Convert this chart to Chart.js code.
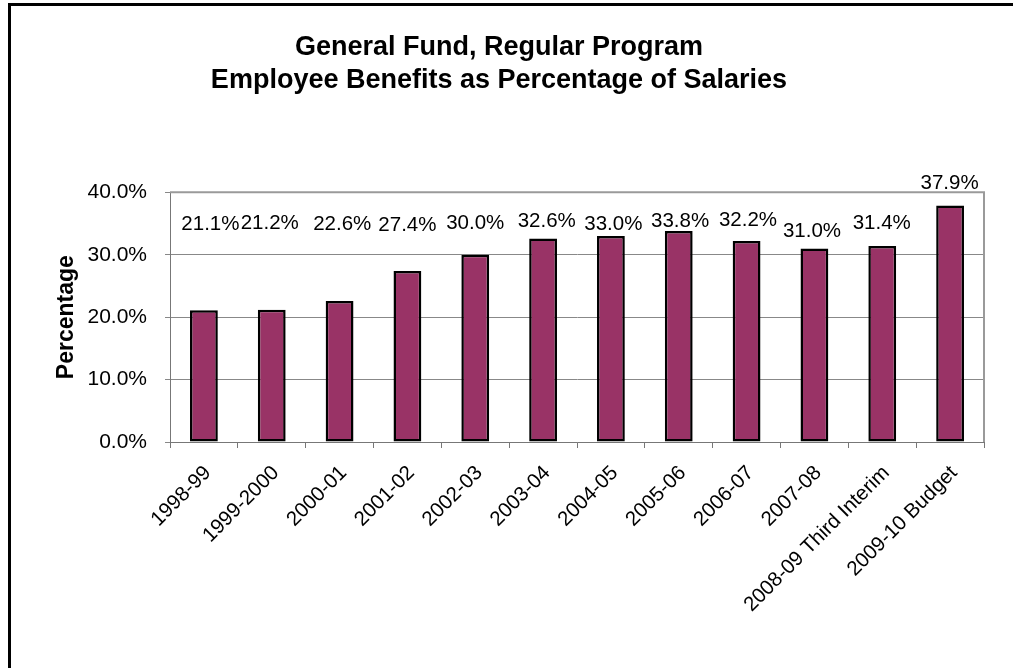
<!DOCTYPE html>
<html>
<head>
<meta charset="utf-8">
<title>Employee Benefits as Percentage of Salaries</title>
<script src="https://cdn.jsdelivr.net/npm/chart.js@4"></script>
<style>
  html, body { margin: 0; padding: 0; background: #fff; overflow: hidden; }
  #frame { position: absolute; left: 8px; top: 3px; width: 1100px; height: 700px;
           border-left: 3px solid #000; border-top: 3px solid #000; }
  #graph { position: absolute; left: 0; top: 0; }
</style>
</head>
<body>
<div id="frame"></div>
<canvas id="graph" width="1013" height="668"></canvas>
<script>
// fiscal years and benefits cost as % of salaries
const years = ['1998-99', '1999-2000', '2000-01', '2001-02', '2002-03', '2003-04',
               '2004-05', '2005-06', '2006-07', '2007-08', '2008-09 Third Interim', '2009-10 Budget'];
const benefitPct = [21.1, 21.2, 22.6, 27.4, 30.0, 32.6, 33.0, 33.8, 32.2, 31.0, 31.4, 37.9];
const yTicks = [0, 10, 20, 30, 40];

const plum = '#993366';
const fontFamily = "'Liberation Sans', Arial, sans-serif";
Chart.defaults.font.family = fontFamily;
Chart.defaults.color = '#000';

// gray frame on top and right of the plot area
const plotFrame = {
  id: 'plotFrame',
  beforeDatasetsDraw(chart) {
    const { ctx, chartArea: a } = chart;
    ctx.save();
    ctx.strokeStyle = '#9a9a9a';
    ctx.lineWidth = 2;
    ctx.beginPath();
    ctx.moveTo(a.left, a.top);
    ctx.lineTo(a.right, a.top);
    ctx.lineTo(a.right, a.bottom);
    ctx.stroke();
    ctx.restore();
  }
};

// value labels, hand-placed relative to each bar top
const valueLabels = {
  id: 'valueLabels',
  afterDatasetsDraw(chart, args, opts) {
    const { ctx } = chart;
    const bars = chart.getDatasetMeta(0).data;
    ctx.save();
    ctx.font = '20.5px ' + fontFamily;
    ctx.fillStyle = '#000';
    ctx.textAlign = 'center';
    ctx.textBaseline = 'middle';
    bars.forEach((bar, i) => {
      const [dx, dy] = opts.nudge[i];
      ctx.fillText(benefitPct[i].toFixed(1) + '%', bar.x + dx, bar.y + dy);
    });
    ctx.restore();
  }
};

new Chart(document.getElementById('graph'), {
  type: 'bar',
  data: {
    labels: years,
    datasets: [{
      data: benefitPct,
      backgroundColor: plum,
      borderColor: '#000',
      borderWidth: 2.5,
      borderSkipped: false,
      categoryPercentage: 1,
      barPercentage: 0.41
    }]
  },
  plugins: [plotFrame, valueLabels],
  options: {
    responsive: false,
    animation: false,
    layout: { padding: { top: 0, left: 14, right: 29, bottom: 0 } },
    plugins: {
      legend: { display: false },
      tooltip: { enabled: false },
      title: {
        display: true,
        text: ['General Fund, Regular Program', 'Employee Benefits as Percentage of Salaries'],
        color: '#000',
        font: { size: 27, weight: 'bold', lineHeight: 1.22 },
        padding: { top: 31, bottom: 95.4 }
      },
      valueLabels: {
        nudge: [[6.5, -86], [-2, -86], [2.7, -77], [0, -46], [0, -31], [3.7, -17.5],
                [2.4, -12], [1.3, -10], [1.4, -20.5], [-2.4, -17.6], [-0.5, -23], [-0.5, -22]]
      }
    },
    scales: {
      x: {
        afterFit(scale) { scale.height = 226; },
        grid: { offset: true, drawOnChartArea: false, drawTicks: true, tickLength: 6, color: '#777' },
        border: { color: '#777', width: 1 },
        ticks: { autoSkip: false, minRotation: 45, maxRotation: 45, padding: 13, labelOffset: 4,
                 font: { size: 20.5 }, color: '#000' }
      },
      y: {
        min: 0,
        max: 40,
        afterFit(scale) { scale.width = 156; },
        afterBuildTicks(scale) { scale.ticks = yTicks.map(v => ({ value: v })); },
        grid: { color: '#888', tickLength: 5 },
        border: { color: '#777', width: 1 },
        ticks: { padding: 18, font: { size: 21 }, color: '#000',
                 callback: v => v.toFixed(1) + '%' },
        title: { display: true, text: 'Percentage', color: '#000',
                 font: { size: 23, weight: 'bold', lineHeight: 1.2 },
                 padding: { top: 39, bottom: 0 } }
      }
    }
  }
});
</script>
</body>
</html>
